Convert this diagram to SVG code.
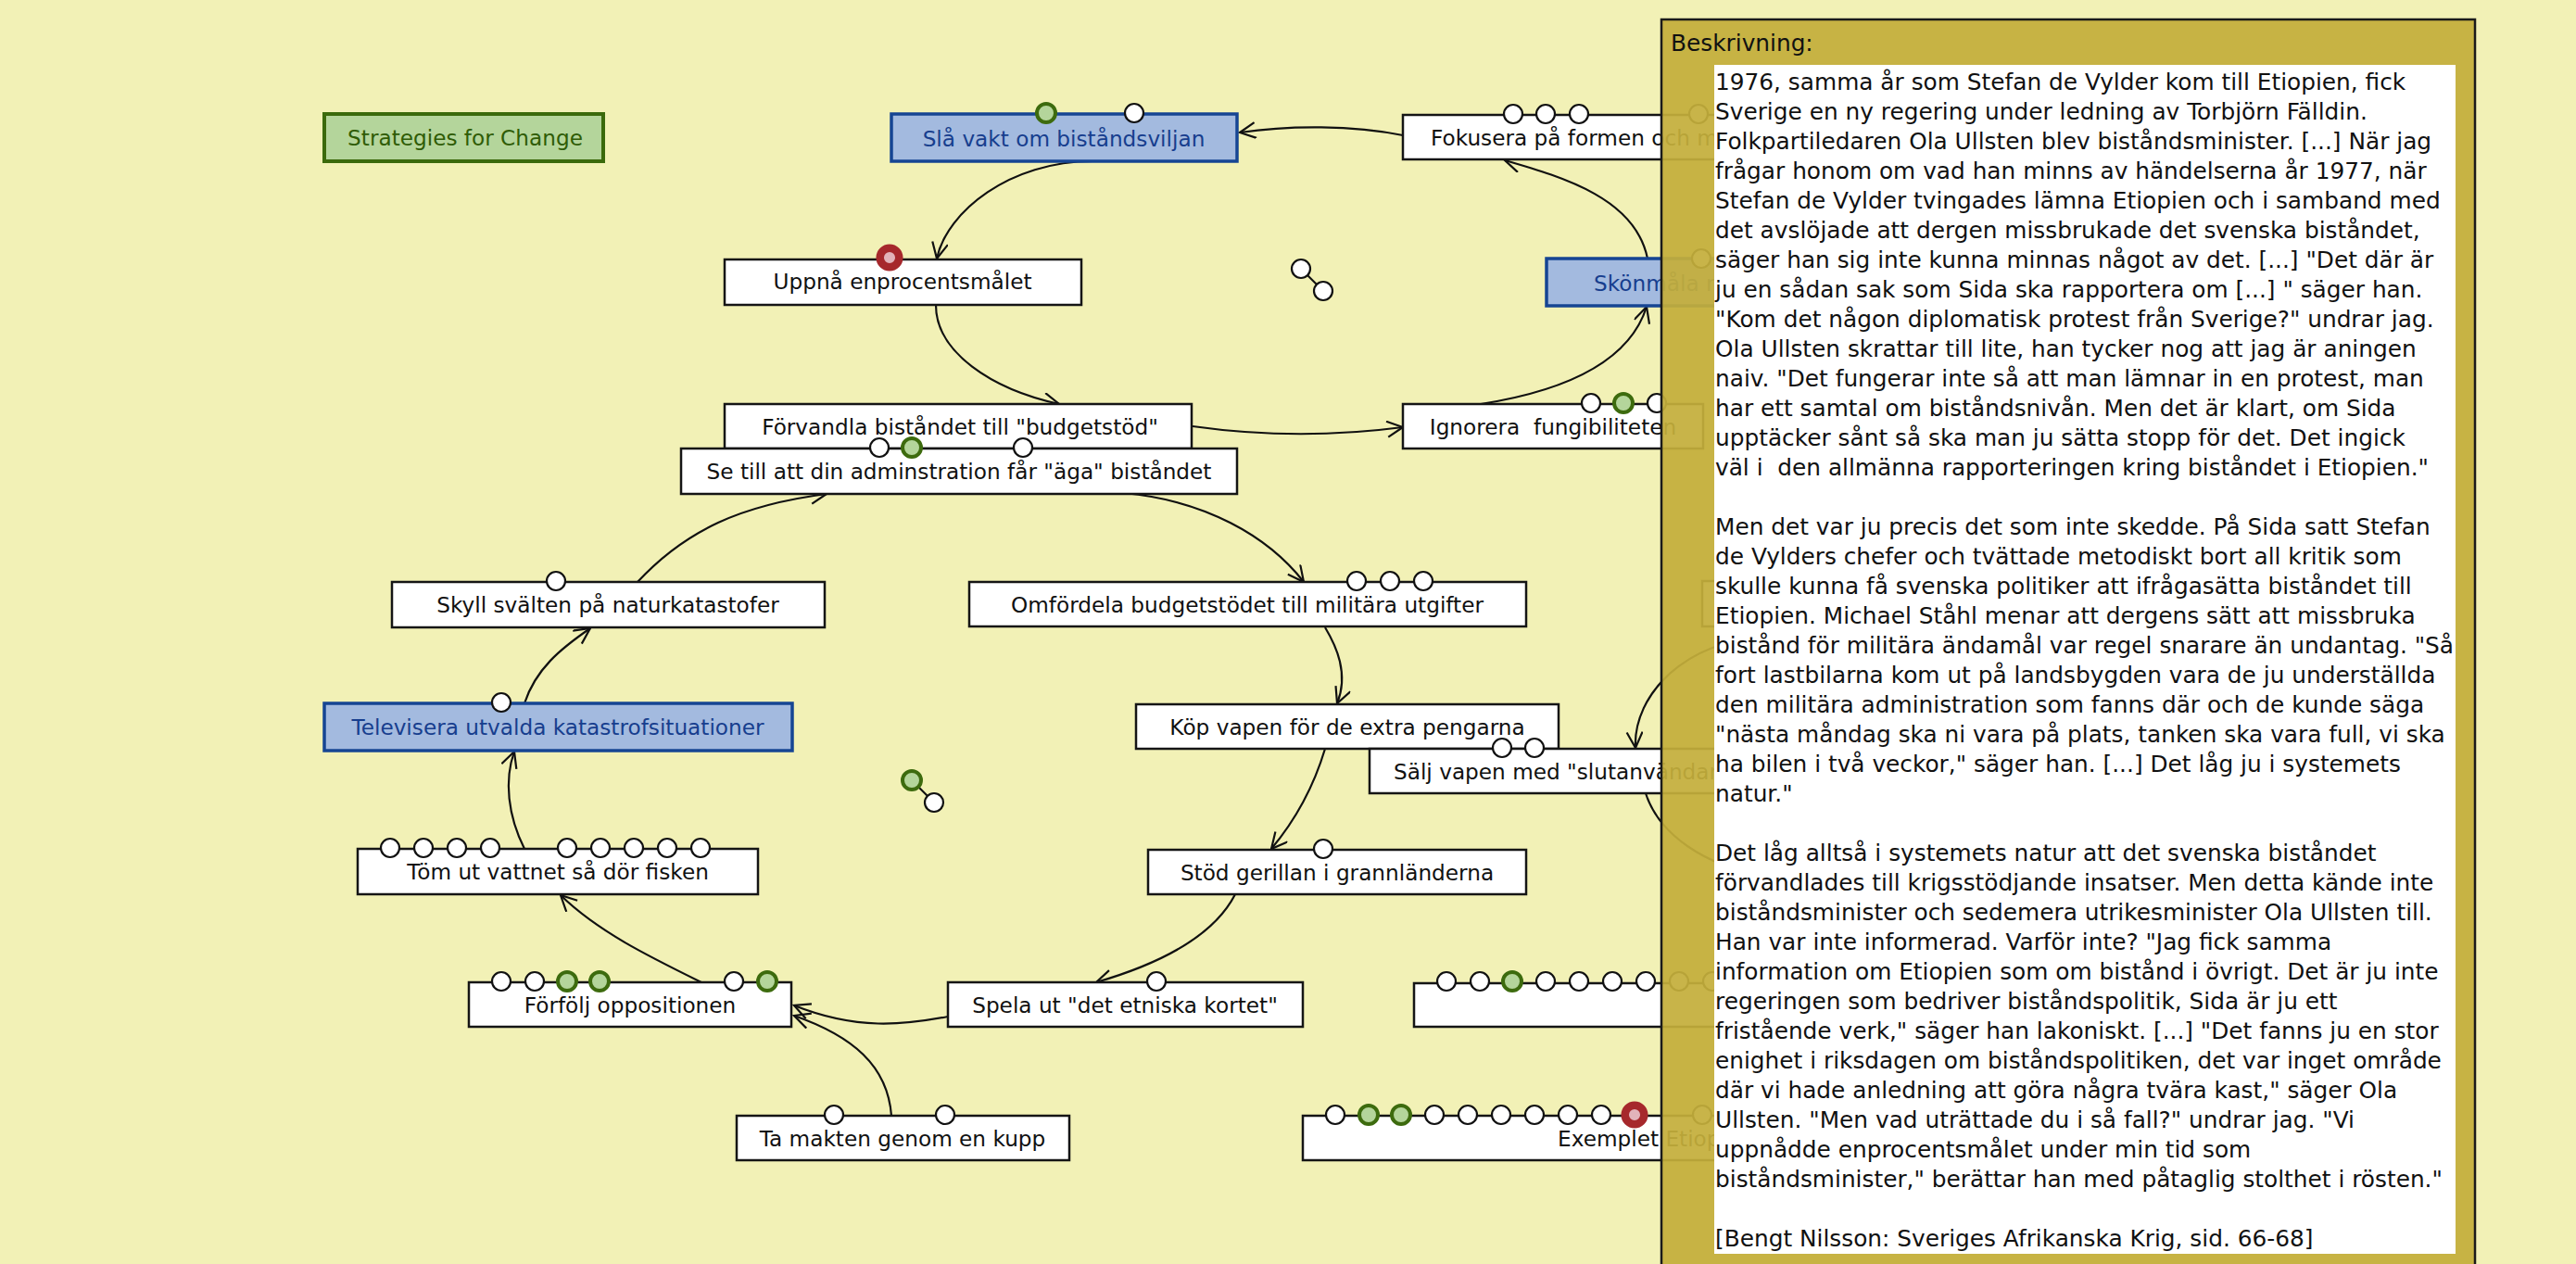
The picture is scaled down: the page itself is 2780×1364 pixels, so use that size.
<svg xmlns="http://www.w3.org/2000/svg" width="2780" height="1364" viewBox="0 0 2780 1364">
<defs>
<style>
.bx{fill:#fff;stroke:#151515;stroke-width:2.5}
.bb{fill:#a3badf;stroke:#164593;stroke-width:3.5}
.bg{fill:#b4d59b;stroke:#3b6a0c;stroke-width:4}
.t{font-family:"DejaVu Sans","Liberation Sans",sans-serif;font-size:23.2px;fill:#111}
.tc{text-anchor:middle}
.tb{fill:#173e8e}
.tg{fill:#2f5c06}
.m{fill:#fff;stroke:#111;stroke-width:2.2}
.mg{fill:#b4d59b;stroke:#3d6b0e;stroke-width:4}
.mr{fill:#e2b3ba;stroke:#a6282c;stroke-width:8.5}
.c{fill:none;stroke:#111;stroke-width:2.2}
.p{font-family:"DejaVu Sans","Liberation Sans",sans-serif;font-size:24.8px;fill:#111}
</style>
<marker id="ah" markerUnits="userSpaceOnUse" markerWidth="22" markerHeight="22" viewBox="0 0 22 22" refX="18" refY="9" orient="auto">
<path d="M1,0.5 L18,9 L1,17.5" fill="none" stroke="#111" stroke-width="2.2"/>
</marker>
</defs>
<rect x="0" y="0" width="2780" height="1364" fill="#f2f1b6"/>

<g id="connectors">
<path class="c" marker-end="url(#ah)" d="M1514,146 C1460,135 1392,135 1338,143"/>
<path class="c" marker-end="url(#ah)" d="M1179,174 C1090,174 1022,228 1011,279"/>
<path class="c" marker-end="url(#ah)" d="M1010,329 C1010,380 1070,420 1143,436"/>
<path class="c" marker-end="url(#ah)" d="M1287,460 Q1400,476 1514,461"/>
<path class="c" marker-end="url(#ah)" d="M1598,436 C1700,420 1760,385 1777,331"/>
<path class="c" marker-end="url(#ah)" d="M1778,279 C1765,215 1690,192 1624,173"/>
<path class="c" marker-end="url(#ah)" d="M1213,532 C1300,540 1368,578 1407,628"/>
<path class="c" marker-end="url(#ah)" d="M1430,677 C1442,697 1456,727 1443,759"/>
<path class="c" marker-end="url(#ah)" d="M1430,808 C1418,848 1398,885 1372,916"/>
<path class="c" marker-end="url(#ah)" d="M1333,965 C1310,1010 1252,1040 1183,1060"/>
<path class="c" marker-end="url(#ah)" d="M1023,1097 C975,1106 925,1112 857,1085"/>
<path class="c" marker-end="url(#ah)" d="M962,1204 C958,1150 920,1118 857,1096"/>
<path class="c" marker-end="url(#ah)" d="M757,1060 C700,1032 645,1005 605,966"/>
<path class="c" marker-end="url(#ah)" d="M566,916 C548,880 544,842 555,811"/>
<path class="c" marker-end="url(#ah)" d="M566,759 C578,722 605,700 637,678"/>
<path class="c" marker-end="url(#ah)" d="M688,628 C740,572 800,545 892,533"/>
<path class="c" marker-end="url(#ah)" d="M1905,688 C1820,690 1762,750 1765,807"/>
<path class="c" d="M1776,856 C1790,900 1840,935 1905,945"/>
<path class="c" d="M1404,290 L1428,314"/>
<path class="c" d="M984,842 L1008,866"/>
</g>

<g id="n-strategies">
<rect class="bg" x="350" y="123" width="301" height="51"/>
<text class="t tc tg" x="502" y="157">Strategies for Change</text>
</g>
<g id="n-slavakt">
<rect class="bb" x="962" y="123" width="373" height="51"/>
<text class="t tc tb" x="1148" y="158">Slå vakt om biståndsviljan</text>
<circle class="mg" cx="1129" cy="122" r="10"/>
<circle class="m" cx="1224" cy="122" r="10"/>
</g>
<g id="n-fokusera">
<rect class="bx" x="1514" y="124" width="400" height="48"/>
<text class="t" x="1544" y="157">Fokusera på formen och m</text>
<circle class="m" cx="1633" cy="123" r="10"/>
<circle class="m" cx="1668" cy="123" r="10"/>
<circle class="m" cx="1704" cy="123" r="10"/>
<circle class="m" cx="1833" cy="123" r="10"/>
</g>
<g id="n-uppna">
<rect class="bx" x="782" y="280" width="385" height="49"/>
<text class="t tc" x="974" y="312">Uppnå enprocentsmålet</text>
<circle class="mr" cx="960" cy="278" r="10.3"/>
</g>
<g id="n-skonmala">
<rect class="bb" x="1669" y="279" width="260" height="51"/>
<text class="t tb" x="1720" y="314">Skönmåla r</text>
<circle class="m" cx="1836" cy="279" r="10"/>
</g>
<g id="n-dots1">
<circle class="m" cx="1404" cy="290" r="10"/>
<circle class="m" cx="1428" cy="314" r="10"/>
</g>
<g id="n-forvandla">
<rect class="bx" x="782" y="436" width="504" height="48"/>
<text class="t tc" x="1036" y="469">Förvandla biståndet till "budgetstöd"</text>
</g>
<g id="n-setill">
<rect class="bx" x="735" y="484" width="600" height="49"/>
<text class="t tc" x="1035" y="517">Se till att din adminstration får "äga" biståndet</text>
<circle class="m" cx="949" cy="483" r="10"/>
<circle class="mg" cx="984" cy="483" r="10"/>
<circle class="m" cx="1104" cy="483" r="10"/>
</g>
<g id="n-ignorera">
<rect class="bx" x="1514" y="436" width="324" height="48"/>
<text class="t tc" x="1676" y="469" xml:space="preserve">Ignorera  fungibiliteten</text>
<circle class="m" cx="1717" cy="435" r="10"/>
<circle class="mg" cx="1752" cy="435" r="10"/>
<circle class="m" cx="1788" cy="435" r="10"/>
</g>
<g id="n-skyll">
<rect class="bx" x="423" y="628" width="467" height="49"/>
<text class="t tc" x="656" y="661">Skyll svälten på naturkatastofer</text>
<circle class="m" cx="600" cy="627" r="10"/>
</g>
<g id="n-omfordela">
<rect class="bx" x="1046" y="628" width="601" height="48"/>
<text class="t tc" x="1346" y="661">Omfördela budgetstödet till militära utgifter</text>
<circle class="m" cx="1464" cy="627" r="10"/>
<circle class="m" cx="1500" cy="627" r="10"/>
<circle class="m" cx="1536" cy="627" r="10"/>
</g>
<g id="n-hidden">
<rect class="bx" x="1837" y="627" width="100" height="49"/>
</g>
<g id="n-televisera">
<rect class="bb" x="350" y="759" width="505" height="51"/>
<text class="t tc tb" x="602" y="793">Televisera utvalda katastrofsituationer</text>
<circle class="m" cx="541" cy="758" r="10"/>
</g>
<g id="n-kop">
<rect class="bx" x="1226" y="760" width="456" height="48"/>
<text class="t tc" x="1454" y="793">Köp vapen för de extra pengarna</text>
</g>
<g id="n-salj">
<rect class="bx" x="1478" y="808" width="430" height="48"/>
<text class="t" x="1504" y="841">Sälj vapen med "slutanvändari</text>
<circle class="m" cx="1621" cy="807" r="10"/>
<circle class="m" cx="1656" cy="807" r="10"/>
</g>
<g id="n-dots2">
<circle class="mg" cx="984" cy="842" r="10"/>
<circle class="m" cx="1008" cy="866" r="10"/>
</g>
<g id="n-tom">
<rect class="bx" x="386" y="916" width="432" height="49"/>
<text class="t tc" x="602" y="949">Töm ut vattnet så dör fisken</text>
<circle class="m" cx="421" cy="915" r="10"/>
<circle class="m" cx="457" cy="915" r="10"/>
<circle class="m" cx="493" cy="915" r="10"/>
<circle class="m" cx="529" cy="915" r="10"/>
<circle class="m" cx="612" cy="915" r="10"/>
<circle class="m" cx="648" cy="915" r="10"/>
<circle class="m" cx="684" cy="915" r="10"/>
<circle class="m" cx="720" cy="915" r="10"/>
<circle class="m" cx="756" cy="915" r="10"/>
</g>
<g id="n-stod">
<rect class="bx" x="1239" y="917" width="408" height="48"/>
<text class="t tc" x="1443" y="950">Stöd gerillan i grannländerna</text>
<circle class="m" cx="1428" cy="916" r="10"/>
</g>
<g id="n-forfolj">
<rect class="bx" x="506" y="1060" width="348" height="48"/>
<text class="t tc" x="680" y="1093">Förfölj oppositionen</text>
<circle class="m" cx="541" cy="1059" r="10"/>
<circle class="m" cx="577" cy="1059" r="10"/>
<circle class="mg" cx="612" cy="1059" r="10"/>
<circle class="mg" cx="647" cy="1059" r="10"/>
<circle class="m" cx="792" cy="1059" r="10"/>
<circle class="mg" cx="828" cy="1059" r="10"/>
</g>
<g id="n-spela">
<rect class="bx" x="1023" y="1060" width="383" height="48"/>
<text class="t tc" x="1214" y="1093">Spela ut "det etniska kortet"</text>
<circle class="m" cx="1248" cy="1059" r="10"/>
</g>
<g id="n-empty">
<rect class="bx" x="1526" y="1061" width="400" height="47"/>
<circle class="m" cx="1561" cy="1059" r="10"/>
<circle class="m" cx="1597" cy="1059" r="10"/>
<circle class="mg" cx="1632" cy="1059" r="10"/>
<circle class="m" cx="1668" cy="1059" r="10"/>
<circle class="m" cx="1704" cy="1059" r="10"/>
<circle class="m" cx="1740" cy="1059" r="10"/>
<circle class="m" cx="1776" cy="1059" r="10"/>
<circle class="m" cx="1812" cy="1059" r="10"/>
<circle class="m" cx="1848" cy="1059" r="10"/>
</g>
<g id="n-tamakten">
<rect class="bx" x="795" y="1204" width="359" height="48"/>
<text class="t tc" x="974" y="1237">Ta makten genom en kupp</text>
<circle class="m" cx="900" cy="1203" r="10"/>
<circle class="m" cx="1020" cy="1203" r="10"/>
</g>
<g id="n-exemplet">
<rect class="bx" x="1406" y="1204" width="520" height="48"/>
<text class="t" x="1681" y="1237">Exemplet Etiop</text>
<circle class="m" cx="1441" cy="1203" r="10"/>
<circle class="mg" cx="1477" cy="1203" r="10"/>
<circle class="mg" cx="1512" cy="1203" r="10"/>
<circle class="m" cx="1548" cy="1203" r="10"/>
<circle class="m" cx="1584" cy="1203" r="10"/>
<circle class="m" cx="1620" cy="1203" r="10"/>
<circle class="m" cx="1656" cy="1203" r="10"/>
<circle class="m" cx="1692" cy="1203" r="10"/>
<circle class="m" cx="1728" cy="1203" r="10"/>
<circle class="mr" cx="1764" cy="1203" r="10.3"/>
<circle class="m" cx="1837" cy="1203" r="10"/>
</g>

<g id="panel">
<rect x="1793" y="21" width="878" height="1360" fill="#c4ae3b" fill-opacity="0.93" stroke="#1a1a1a" stroke-width="2.5"/>
<rect x="1850" y="70" width="800" height="1283" fill="#fff"/>
<text class="p" x="1803" y="55">Beskrivning:</text>
<text class="p" xml:space="preserve">
<tspan x="1851" y="97">1976, samma år som Stefan de Vylder kom till Etiopien, fick</tspan>
<tspan x="1851" y="129">Sverige en ny regering under ledning av Torbjörn Fälldin.</tspan>
<tspan x="1851" y="161">Folkpartiledaren Ola Ullsten blev biståndsminister. [...] När jag</tspan>
<tspan x="1851" y="193">frågar honom om vad han minns av händelserna år 1977, när</tspan>
<tspan x="1851" y="225">Stefan de Vylder tvingades lämna Etiopien och i samband med</tspan>
<tspan x="1851" y="257">det avslöjade att dergen missbrukade det svenska biståndet,</tspan>
<tspan x="1851" y="289">säger han sig inte kunna minnas något av det. [...] "Det där är</tspan>
<tspan x="1851" y="321">ju en sådan sak som Sida ska rapportera om [...] " säger han.</tspan>
<tspan x="1851" y="353">"Kom det någon diplomatisk protest från Sverige?" undrar jag.</tspan>
<tspan x="1851" y="385">Ola Ullsten skrattar till lite, han tycker nog att jag är aningen</tspan>
<tspan x="1851" y="417">naiv. "Det fungerar inte så att man lämnar in en protest, man</tspan>
<tspan x="1851" y="449">har ett samtal om biståndsnivån. Men det är klart, om Sida</tspan>
<tspan x="1851" y="481">upptäcker sånt så ska man ju sätta stopp för det. Det ingick</tspan>
<tspan x="1851" y="513">väl i  den allmänna rapporteringen kring biståndet i Etiopien."</tspan>
<tspan x="1851" y="577">Men det var ju precis det som inte skedde. På Sida satt Stefan</tspan>
<tspan x="1851" y="609">de Vylders chefer och tvättade metodiskt bort all kritik som</tspan>
<tspan x="1851" y="641">skulle kunna få svenska politiker att ifrågasätta biståndet till</tspan>
<tspan x="1851" y="673">Etiopien. Michael Ståhl menar att dergens sätt att missbruka</tspan>
<tspan x="1851" y="705">bistånd för militära ändamål var regel snarare än undantag. "Så</tspan>
<tspan x="1851" y="737">fort lastbilarna kom ut på landsbygden vara de ju underställda</tspan>
<tspan x="1851" y="769">den militära administration som fanns där och de kunde säga</tspan>
<tspan x="1851" y="801">"nästa måndag ska ni vara på plats, tanken ska vara full, vi ska</tspan>
<tspan x="1851" y="833">ha bilen i två veckor," säger han. [...] Det låg ju i systemets</tspan>
<tspan x="1851" y="865">natur."</tspan>
<tspan x="1851" y="929">Det låg alltså i systemets natur att det svenska biståndet</tspan>
<tspan x="1851" y="961">förvandlades till krigsstödjande insatser. Men detta kände inte</tspan>
<tspan x="1851" y="993">biståndsminister och sedemera utrikesminister Ola Ullsten till.</tspan>
<tspan x="1851" y="1025">Han var inte informerad. Varför inte? "Jag fick samma</tspan>
<tspan x="1851" y="1057">information om Etiopien som om bistånd i övrigt. Det är ju inte</tspan>
<tspan x="1851" y="1089">regeringen som bedriver biståndspolitik, Sida är ju ett</tspan>
<tspan x="1851" y="1121">fristående verk," säger han lakoniskt. [...] "Det fanns ju en stor</tspan>
<tspan x="1851" y="1153">enighet i riksdagen om biståndspolitiken, det var inget område</tspan>
<tspan x="1851" y="1185">där vi hade anledning att göra några tvära kast," säger Ola</tspan>
<tspan x="1851" y="1217">Ullsten. "Men vad uträttade du i så fall?" undrar jag. "Vi</tspan>
<tspan x="1851" y="1249">uppnådde enprocentsmålet under min tid som</tspan>
<tspan x="1851" y="1281">biståndsminister," berättar han med påtaglig stolthet i rösten."</tspan>
<tspan x="1851" y="1345">[Bengt Nilsson: Sveriges Afrikanska Krig, sid. 66-68]</tspan>
</text>
</g>
</svg>
